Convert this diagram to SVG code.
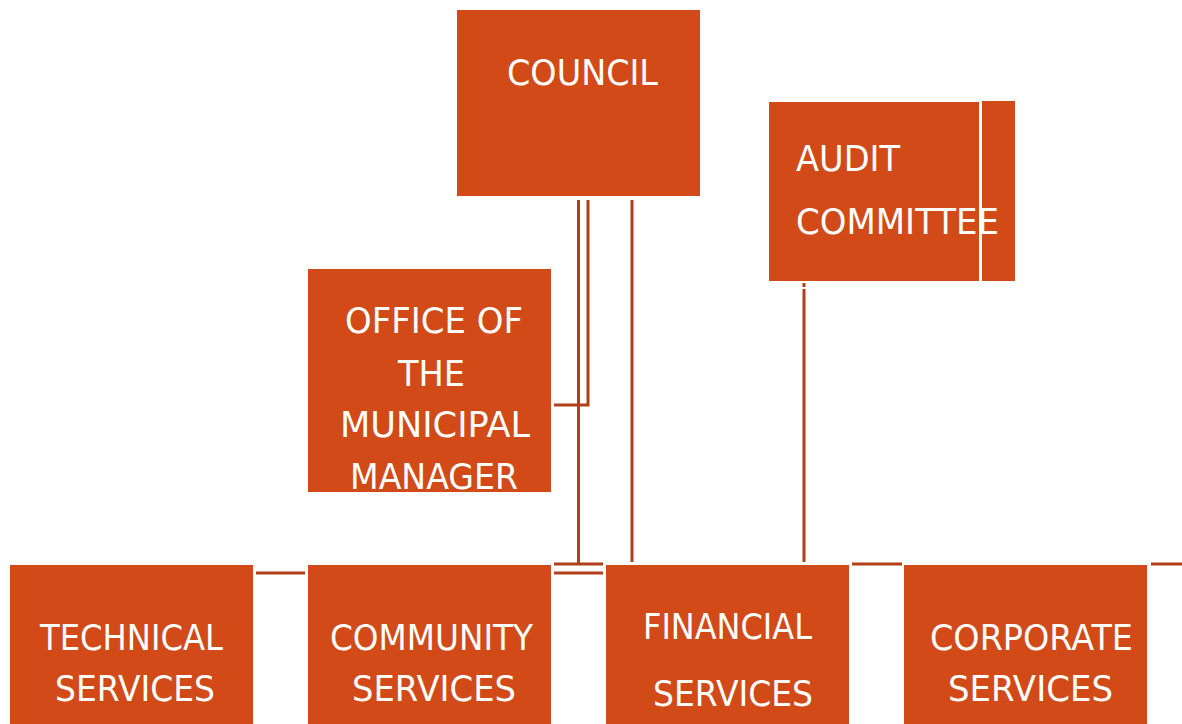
<svg xmlns="http://www.w3.org/2000/svg" width="1182" height="724" viewBox="0 0 1182 724">
<style>
.box{fill:#D24A18}
.t{fill:#ffffff;font-family:"DejaVu Sans","Liberation Sans",sans-serif;font-size:35px}
.ln{stroke:#B23F1A;stroke-width:3;fill:none}
</style>
<rect width="1182" height="724" fill="#ffffff"/>
<g id="connectors">
<path class="ln" d="M578.5 200 V565"/>
<path class="ln" d="M588 200 V405 H554"/>
<path class="ln" d="M554 564 H603"/>
<path class="ln" d="M554 573 H603"/>
<path class="ln" d="M632 200 V562"/>
<path class="ln" d="M804 283 V287"/>
<path class="ln" d="M804 289 V562"/>
<path class="ln" d="M256 573 H305"/>
<path class="ln" d="M852 564 H902"/>
<path class="ln" d="M1151 564 H1182"/>
</g>
<g id="council">
<rect class="box" x="457" y="10" width="243" height="186"/>
<text class="t" x="507" y="85" textLength="151" lengthAdjust="spacingAndGlyphs">COUNCIL</text>
</g>
<g id="audit">
<rect class="box" x="769" y="102" width="210" height="179"/>
<rect class="box" x="982" y="101" width="33" height="180"/>
<text class="t" x="796" y="171" textLength="104" lengthAdjust="spacingAndGlyphs">AUDIT</text>
<text class="t" x="796" y="234" textLength="203" lengthAdjust="spacingAndGlyphs">COMMITTEE</text>
</g>
<g id="office">
<rect class="box" x="308" y="269" width="243" height="223"/>
<text class="t" x="345" y="333" textLength="178" lengthAdjust="spacingAndGlyphs">OFFICE OF</text>
<text class="t" x="398" y="386" textLength="67" lengthAdjust="spacingAndGlyphs">THE</text>
<text class="t" x="340" y="437" textLength="190" lengthAdjust="spacingAndGlyphs">MUNICIPAL</text>
<text class="t" x="350" y="489" textLength="168" lengthAdjust="spacingAndGlyphs">MANAGER</text>
</g>
<g id="technical">
<rect class="box" x="10" y="565" width="243" height="159"/>
<text class="t" x="40" y="650" textLength="183" lengthAdjust="spacingAndGlyphs">TECHNICAL</text>
<text class="t" x="55" y="701" textLength="160" lengthAdjust="spacingAndGlyphs">SERVICES</text>
</g>
<g id="community">
<rect class="box" x="308" y="565" width="243" height="159"/>
<text class="t" x="330" y="650" textLength="203" lengthAdjust="spacingAndGlyphs">COMMUNITY</text>
<text class="t" x="352" y="701" textLength="164" lengthAdjust="spacingAndGlyphs">SERVICES</text>
</g>
<g id="financial">
<rect class="box" x="606" y="565" width="243" height="159"/>
<text class="t" x="643" y="639" textLength="169" lengthAdjust="spacingAndGlyphs">FINANCIAL</text>
<text class="t" x="653" y="706" textLength="160" lengthAdjust="spacingAndGlyphs">SERVICES</text>
</g>
<g id="corporate">
<rect class="box" x="904" y="565" width="243" height="159"/>
<text class="t" x="930" y="650" textLength="203" lengthAdjust="spacingAndGlyphs">CORPORATE</text>
<text class="t" x="948" y="701" textLength="165" lengthAdjust="spacingAndGlyphs">SERVICES</text>
</g>
</svg>
